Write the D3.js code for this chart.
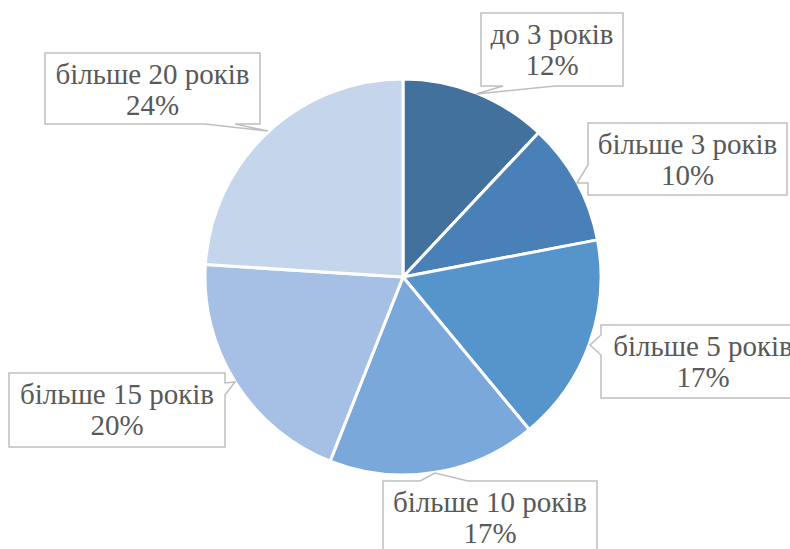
<!DOCTYPE html>
<html>
<head>
<meta charset="utf-8">
<script src="https://cdn.jsdelivr.net/npm/d3@7"></script>
<style>
  body { margin: 0; background: #fff; }
  svg { display: block; }
</style>
</head>
<body>
<script>
// categories and shares (%)
const categories = ["до 3 років", "більше 3 років", "більше 5 років", "більше 10 років", "більше 15 років", "більше 20 років"];
const shares = [12, 10, 17, 17, 20, 24];
const colors = ["#41719c", "#4a80b8", "#5694cc", "#7ba8da", "#a5c0e4", "#c5d5eb"];

// callout boxes: box rect, which side the pointer leaves from, pointer base (a,b) and tip
const callouts = [
  {x: 481, y: 13, w: 142, h: 73, side: "bottom", a: 503, b: 555, tip: [476, 94]},
  {x: 588, y: 123, w: 199, h: 72, side: "left", a: 165, b: 183, tip: [577, 183]},
  {x: 601, y: 325, w: 204, h: 73, side: "left", a: 335, b: 355, tip: [590, 345]},
  {x: 383, y: 481, w: 214, h: 80, side: "top", a: 420, b: 468, tip: [435, 473]},
  {x: 9, y: 373, w: 216, h: 74, side: "right", a: 383, b: 395, tip: [235, 382]},
  {x: 45, y: 53, w: 215, h: 71, side: "bottom", a: 205, b: 235, tip: [268, 131]}
];

const width = 790, height = 549;
const cx = 403, cy = 277, radius = 198;

const svg = d3.select("body").append("svg")
    .attr("width", width)
    .attr("height", height);

const pie = d3.pie().sort(null).value(d => d);
const arc = d3.arc().innerRadius(0).outerRadius(radius);

const g = svg.append("g").attr("transform", `translate(${cx},${cy})`);

g.selectAll("path")
    .data(pie(shares))
    .enter()
    .append("path")
    .attr("d", arc)
    .attr("fill", (d, i) => colors[i])
    .attr("stroke", "#fff")
    .attr("stroke-width", 3)
    .attr("stroke-linejoin", "round");

// outline of a rectangle with a pointer on one side
function calloutPath(c) {
  const x0 = c.x, y0 = c.y, x1 = c.x + c.w, y1 = c.y + c.h;
  const t = c.tip;
  let p = d3.path();
  p.moveTo(x0, y0);
  if (c.side === "top") { p.lineTo(c.a, y0); p.lineTo(t[0], t[1]); p.lineTo(c.b, y0); }
  p.lineTo(x1, y0);
  if (c.side === "right") { p.lineTo(x1, c.a); p.lineTo(t[0], t[1]); p.lineTo(x1, c.b); }
  p.lineTo(x1, y1);
  if (c.side === "bottom") { p.lineTo(c.b, y1); p.lineTo(t[0], t[1]); p.lineTo(c.a, y1); }
  p.lineTo(x0, y1);
  if (c.side === "left") { p.lineTo(x0, c.b); p.lineTo(t[0], t[1]); p.lineTo(x0, c.a); }
  p.closePath();
  return p.toString();
}

const labels = svg.selectAll("g.callout")
    .data(callouts)
    .enter()
    .append("g")
    .attr("class", "callout");

labels.append("path")
    .attr("d", calloutPath)
    .attr("fill", "#fff")
    .attr("stroke", "#bfbfbf")
    .attr("stroke-width", 1.5);

const text = labels.append("text")
    .attr("text-anchor", "middle")
    .style("font-family", '"Liberation Serif"')
    .style("font-size", "29px")
    .attr("fill", "#595959");

text.append("tspan")
    .attr("x", d => d.x + d.w / 2)
    .attr("y", d => d.y + 31)
    .text((d, i) => categories[i]);

text.append("tspan")
    .attr("x", d => d.x + d.w / 2)
    .attr("y", d => d.y + 62)
    .text((d, i) => shares[i] + "%");
</script>
</body>
</html>
